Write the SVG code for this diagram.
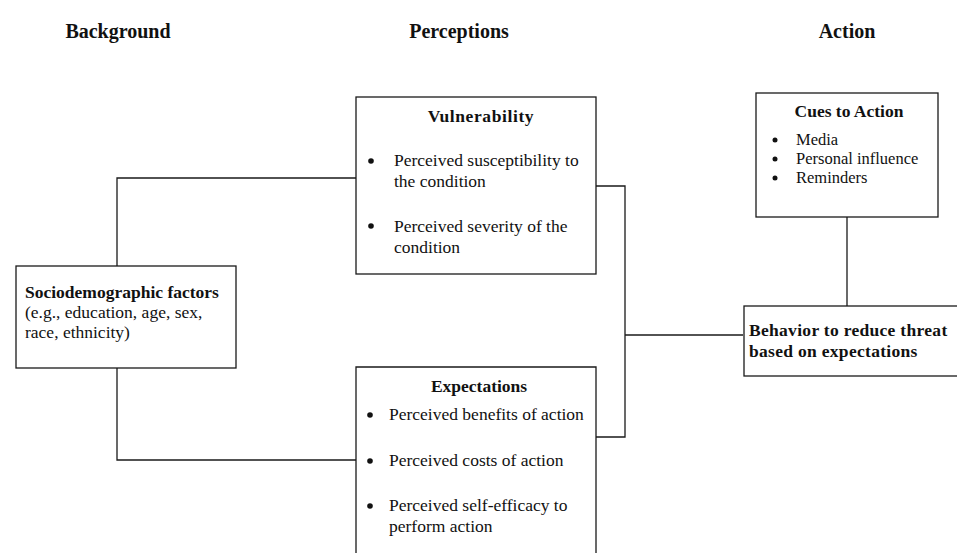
<svg xmlns="http://www.w3.org/2000/svg" width="957" height="553" viewBox="0 0 957 553">
  <style>
    .bg { fill: #ffffff; }
    .box { fill: #ffffff; stroke: #1a1a1a; stroke-width: 1.3; }
    .wire { fill: none; stroke: #1a1a1a; stroke-width: 1.3; }
    .head { font-family: "Liberation Serif", "Times New Roman", serif; font-weight: bold; font-size: 20px; fill: #111; }
    .title { font-family: "Liberation Serif", "Times New Roman", serif; font-weight: bold; font-size: 17.5px; fill: #111; }
    .spaced { letter-spacing: 0.6px; }
    .tight { letter-spacing: 0.3px; }
    .body { font-family: "Liberation Serif", "Times New Roman", serif; font-size: 17.5px; fill: #111; }
    .small { font-size: 16.5px; }
    .dot { fill: #111; }
  </style>
  <rect class="bg" x="0" y="0" width="957" height="553"/>

  <!-- column headings -->
  <g id="headings">
    <text class="head" x="118" y="38" text-anchor="middle">Background</text>
    <text class="head" x="459" y="38" text-anchor="middle">Perceptions</text>
    <text class="head" x="847" y="38" text-anchor="middle">Action</text>
  </g>

  <!-- connectors -->
  <g id="connectors">
    <polyline class="wire" points="117,266 117,178 356,178"/>
    <polyline class="wire" points="117,368 117,460 356,460"/>
    <polyline class="wire" points="596,186 625,186 625,437 596,437"/>
    <line class="wire" x1="625" y1="335" x2="743" y2="335"/>
    <line class="wire" x1="847" y1="217" x2="847" y2="306"/>
  </g>

  <g id="sociodemographic">
    <rect class="box" x="16" y="266" width="220" height="102"/>
    <text class="title" x="25" y="298">Sociodemographic factors</text>
    <text class="body" x="25" y="318">(e.g., education, age, sex,</text>
    <text class="body" x="25" y="338">race, ethnicity)</text>
  </g>

  <g id="vulnerability">
    <rect class="box" x="356" y="97" width="240" height="177"/>
    <text class="title spaced" x="481" y="122" text-anchor="middle">Vulnerability</text>
    <circle class="dot" cx="371" cy="161" r="2.8"/>
    <text class="body" x="394" y="166">Perceived susceptibility to</text>
    <text class="body" x="394" y="187">the condition</text>
    <circle class="dot" cx="371" cy="226" r="2.8"/>
    <text class="body" x="394" y="232">Perceived severity of the</text>
    <text class="body" x="394" y="253">condition</text>
  </g>

  <g id="expectations">
    <path class="box" d="M356,554 V367 H596 V554"/>
    <text class="title" x="479" y="392" text-anchor="middle">Expectations</text>
    <circle class="dot" cx="370" cy="415" r="2.8"/>
    <text class="body" x="389" y="420">Perceived benefits of action</text>
    <circle class="dot" cx="370" cy="461" r="2.8"/>
    <text class="body" x="389" y="466">Perceived costs of action</text>
    <circle class="dot" cx="370" cy="506" r="2.8"/>
    <text class="body" x="389" y="511">Perceived self-efficacy to</text>
    <text class="body" x="389" y="532">perform action</text>
  </g>

  <g id="cues">
    <rect class="box" x="756" y="93" width="182" height="124"/>
    <text class="title" x="849" y="117" text-anchor="middle">Cues to Action</text>
    <circle class="dot" cx="775" cy="140" r="2.5"/>
    <text class="body small" x="796" y="145">Media</text>
    <circle class="dot" cx="775" cy="159" r="2.5"/>
    <text class="body small" x="796" y="164">Personal influence</text>
    <circle class="dot" cx="775" cy="178" r="2.5"/>
    <text class="body small" x="796" y="183">Reminders</text>
  </g>

  <g id="behavior">
    <rect class="box" x="744" y="306" width="220" height="70"/>
    <text class="title tight" x="749" y="336">Behavior to reduce threat</text>
    <text class="title tight" x="749" y="357">based on expectations</text>
  </g>
</svg>
